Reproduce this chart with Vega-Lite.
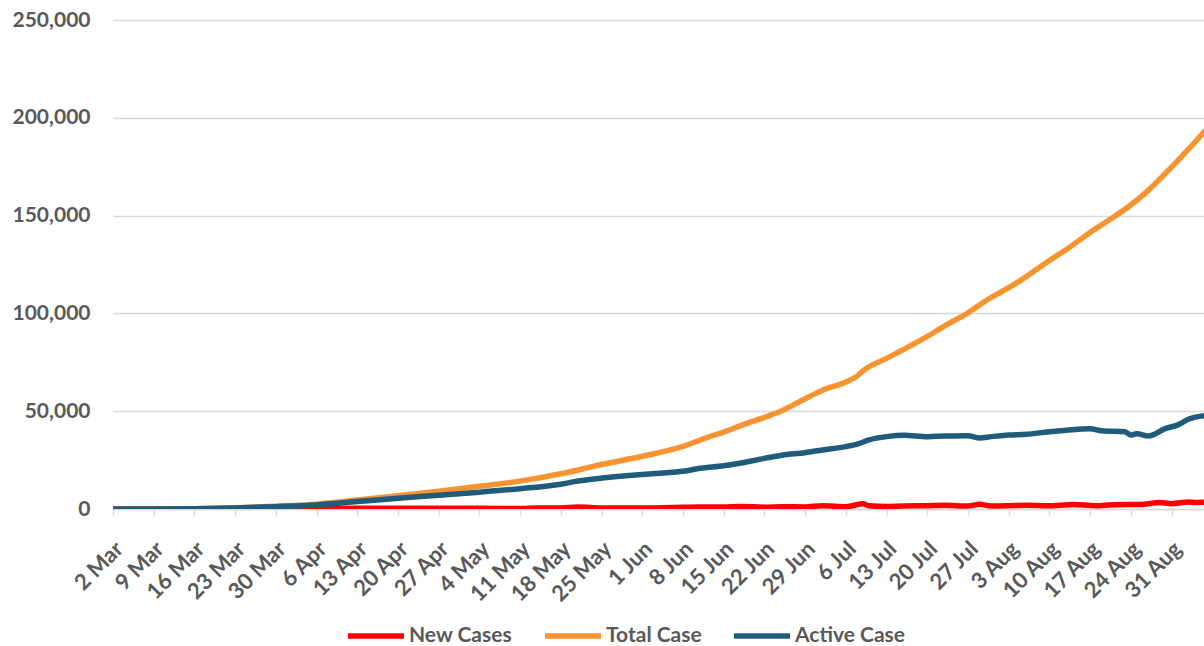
{
  "$schema": "https://vega.github.io/schema/vega-lite/v6.json",
  "width": 1091,
  "height": 489,
  "autosize": {"type": "none"},
  "padding": {"left": 113, "top": 20, "right": 0, "bottom": 137},
  "background": "white",
  "config": {"view": {"stroke": null}, "font": "Lato"},
  "data": {
    "format": {"parse": {"date": "date:'%Y-%m-%d'"}},
    "values": [
      {"date": "2020-03-02", "series": "New Cases", "value": 2},
      {"date": "2020-03-09", "series": "New Cases", "value": 4},
      {"date": "2020-03-16", "series": "New Cases", "value": 17},
      {"date": "2020-03-23", "series": "New Cases", "value": 65},
      {"date": "2020-03-30", "series": "New Cases", "value": 129},
      {"date": "2020-04-06", "series": "New Cases", "value": 218},
      {"date": "2020-04-13", "series": "New Cases", "value": 399},
      {"date": "2020-04-20", "series": "New Cases", "value": 375},
      {"date": "2020-04-27", "series": "New Cases", "value": 350},
      {"date": "2020-05-04", "series": "New Cases", "value": 395},
      {"date": "2020-05-11", "series": "New Cases", "value": 233},
      {"date": "2020-05-14", "series": "New Cases", "value": 568},
      {"date": "2020-05-18", "series": "New Cases", "value": 496},
      {"date": "2020-05-21", "series": "New Cases", "value": 973},
      {"date": "2020-05-25", "series": "New Cases", "value": 479},
      {"date": "2020-06-01", "series": "New Cases", "value": 467},
      {"date": "2020-06-04", "series": "New Cases", "value": 585},
      {"date": "2020-06-08", "series": "New Cases", "value": 847},
      {"date": "2020-06-11", "series": "New Cases", "value": 979},
      {"date": "2020-06-15", "series": "New Cases", "value": 1017},
      {"date": "2020-06-18", "series": "New Cases", "value": 1331},
      {"date": "2020-06-22", "series": "New Cases", "value": 954},
      {"date": "2020-06-25", "series": "New Cases", "value": 1178},
      {"date": "2020-06-29", "series": "New Cases", "value": 1082},
      {"date": "2020-07-02", "series": "New Cases", "value": 1624},
      {"date": "2020-07-06", "series": "New Cases", "value": 1209},
      {"date": "2020-07-09", "series": "New Cases", "value": 2657},
      {"date": "2020-07-10", "series": "New Cases", "value": 1611},
      {"date": "2020-07-13", "series": "New Cases", "value": 1282},
      {"date": "2020-07-16", "series": "New Cases", "value": 1574},
      {"date": "2020-07-20", "series": "New Cases", "value": 1693},
      {"date": "2020-07-23", "series": "New Cases", "value": 1906},
      {"date": "2020-07-27", "series": "New Cases", "value": 1525},
      {"date": "2020-07-29", "series": "New Cases", "value": 2381},
      {"date": "2020-07-31", "series": "New Cases", "value": 1560},
      {"date": "2020-08-03", "series": "New Cases", "value": 1679},
      {"date": "2020-08-06", "series": "New Cases", "value": 1882},
      {"date": "2020-08-10", "series": "New Cases", "value": 1687},
      {"date": "2020-08-13", "series": "New Cases", "value": 2098},
      {"date": "2020-08-14", "series": "New Cases", "value": 2307},
      {"date": "2020-08-18", "series": "New Cases", "value": 1673},
      {"date": "2020-08-21", "series": "New Cases", "value": 2197},
      {"date": "2020-08-24", "series": "New Cases", "value": 2277},
      {"date": "2020-08-26", "series": "New Cases", "value": 2306},
      {"date": "2020-08-27", "series": "New Cases", "value": 2719},
      {"date": "2020-08-29", "series": "New Cases", "value": 3308},
      {"date": "2020-08-31", "series": "New Cases", "value": 2743},
      {"date": "2020-09-03", "series": "New Cases", "value": 3622},
      {"date": "2020-09-04", "series": "New Cases", "value": 3269},
      {"date": "2020-09-06", "series": "New Cases", "value": 3444},

      {"date": "2020-03-02", "series": "Total Case", "value": 2},
      {"date": "2020-03-09", "series": "Total Case", "value": 19},
      {"date": "2020-03-16", "series": "Total Case", "value": 134},
      {"date": "2020-03-23", "series": "Total Case", "value": 579},
      {"date": "2020-03-30", "series": "Total Case", "value": 1414},
      {"date": "2020-04-06", "series": "Total Case", "value": 2491},
      {"date": "2020-04-13", "series": "Total Case", "value": 4557},
      {"date": "2020-04-20", "series": "Total Case", "value": 6760},
      {"date": "2020-04-27", "series": "Total Case", "value": 9096},
      {"date": "2020-05-04", "series": "Total Case", "value": 11587},
      {"date": "2020-05-11", "series": "Total Case", "value": 14265},
      {"date": "2020-05-18", "series": "Total Case", "value": 18010},
      {"date": "2020-05-25", "series": "Total Case", "value": 22750},
      {"date": "2020-06-01", "series": "Total Case", "value": 26940},
      {"date": "2020-06-08", "series": "Total Case", "value": 32033},
      {"date": "2020-06-12", "series": "Total Case", "value": 36406},
      {"date": "2020-06-15", "series": "Total Case", "value": 39294},
      {"date": "2020-06-18", "series": "Total Case", "value": 42762},
      {"date": "2020-06-22", "series": "Total Case", "value": 46845},
      {"date": "2020-06-25", "series": "Total Case", "value": 50187},
      {"date": "2020-06-29", "series": "Total Case", "value": 56385},
      {"date": "2020-07-02", "series": "Total Case", "value": 60695},
      {"date": "2020-07-06", "series": "Total Case", "value": 64958},
      {"date": "2020-07-08", "series": "Total Case", "value": 68079},
      {"date": "2020-07-09", "series": "Total Case", "value": 70736},
      {"date": "2020-07-13", "series": "Total Case", "value": 76981},
      {"date": "2020-07-16", "series": "Total Case", "value": 81668},
      {"date": "2020-07-20", "series": "Total Case", "value": 88214},
      {"date": "2020-07-23", "series": "Total Case", "value": 93657},
      {"date": "2020-07-27", "series": "Total Case", "value": 100303},
      {"date": "2020-07-30", "series": "Total Case", "value": 106336},
      {"date": "2020-08-03", "series": "Total Case", "value": 113134},
      {"date": "2020-08-06", "series": "Total Case", "value": 118753},
      {"date": "2020-08-10", "series": "Total Case", "value": 127083},
      {"date": "2020-08-13", "series": "Total Case", "value": 132816},
      {"date": "2020-08-17", "series": "Total Case", "value": 141370},
      {"date": "2020-08-20", "series": "Total Case", "value": 147211},
      {"date": "2020-08-24", "series": "Total Case", "value": 155412},
      {"date": "2020-08-27", "series": "Total Case", "value": 162884},
      {"date": "2020-08-31", "series": "Total Case", "value": 174796},
      {"date": "2020-09-03", "series": "Total Case", "value": 184268},
      {"date": "2020-09-06", "series": "Total Case", "value": 194109},

      {"date": "2020-03-02", "series": "Active Case", "value": 2},
      {"date": "2020-03-09", "series": "Active Case", "value": 17},
      {"date": "2020-03-16", "series": "Active Case", "value": 121},
      {"date": "2020-03-23", "series": "Active Case", "value": 520},
      {"date": "2020-03-30", "series": "Active Case", "value": 1200},
      {"date": "2020-04-06", "series": "Active Case", "value": 2100},
      {"date": "2020-04-13", "series": "Active Case", "value": 3800},
      {"date": "2020-04-20", "series": "Active Case", "value": 5500},
      {"date": "2020-04-27", "series": "Active Case", "value": 7000},
      {"date": "2020-05-04", "series": "Active Case", "value": 8600},
      {"date": "2020-05-11", "series": "Active Case", "value": 10400},
      {"date": "2020-05-18", "series": "Active Case", "value": 12700},
      {"date": "2020-05-21", "series": "Active Case", "value": 14300},
      {"date": "2020-05-25", "series": "Active Case", "value": 15800},
      {"date": "2020-06-01", "series": "Active Case", "value": 17600},
      {"date": "2020-06-04", "series": "Active Case", "value": 18300},
      {"date": "2020-06-08", "series": "Active Case", "value": 19300},
      {"date": "2020-06-11", "series": "Active Case", "value": 20800},
      {"date": "2020-06-15", "series": "Active Case", "value": 22100},
      {"date": "2020-06-18", "series": "Active Case", "value": 23500},
      {"date": "2020-06-22", "series": "Active Case", "value": 25900},
      {"date": "2020-06-25", "series": "Active Case", "value": 27500},
      {"date": "2020-06-29", "series": "Active Case", "value": 28800},
      {"date": "2020-07-02", "series": "Active Case", "value": 30200},
      {"date": "2020-07-06", "series": "Active Case", "value": 31900},
      {"date": "2020-07-08", "series": "Active Case", "value": 33200},
      {"date": "2020-07-10", "series": "Active Case", "value": 35300},
      {"date": "2020-07-13", "series": "Active Case", "value": 37000},
      {"date": "2020-07-16", "series": "Active Case", "value": 37700},
      {"date": "2020-07-20", "series": "Active Case", "value": 37000},
      {"date": "2020-07-23", "series": "Active Case", "value": 37300},
      {"date": "2020-07-27", "series": "Active Case", "value": 37500},
      {"date": "2020-07-29", "series": "Active Case", "value": 36300},
      {"date": "2020-07-31", "series": "Active Case", "value": 37000},
      {"date": "2020-08-03", "series": "Active Case", "value": 37800},
      {"date": "2020-08-06", "series": "Active Case", "value": 38200},
      {"date": "2020-08-10", "series": "Active Case", "value": 39500},
      {"date": "2020-08-12", "series": "Active Case", "value": 40000},
      {"date": "2020-08-17", "series": "Active Case", "value": 41000},
      {"date": "2020-08-19", "series": "Active Case", "value": 40000},
      {"date": "2020-08-23", "series": "Active Case", "value": 39500},
      {"date": "2020-08-24", "series": "Active Case", "value": 37800},
      {"date": "2020-08-25", "series": "Active Case", "value": 38500},
      {"date": "2020-08-27", "series": "Active Case", "value": 37300},
      {"date": "2020-08-30", "series": "Active Case", "value": 41200},
      {"date": "2020-09-01", "series": "Active Case", "value": 42900},
      {"date": "2020-09-03", "series": "Active Case", "value": 46000},
      {"date": "2020-09-06", "series": "Active Case", "value": 47800}
    ]
  },
  "mark": {"type": "line", "strokeWidth": 5.5, "clip": true, "interpolate": "monotone", "strokeCap": "round", "strokeJoin": "round"},
  "encoding": {
    "x": {
      "field": "date",
      "type": "temporal",
      "title": null,
      "scale": {"domain": [{"year": 2020, "month": 3, "date": 2}, {"year": 2020, "month": 9, "date": 5, "hours": 14}]},
      "axis": {
        "values": [
          {"year": 2020, "month": 3, "date": 2}, {"year": 2020, "month": 3, "date": 9}, {"year": 2020, "month": 3, "date": 16}, {"year": 2020, "month": 3, "date": 23}, {"year": 2020, "month": 3, "date": 30},
          {"year": 2020, "month": 4, "date": 6}, {"year": 2020, "month": 4, "date": 13}, {"year": 2020, "month": 4, "date": 20}, {"year": 2020, "month": 4, "date": 27},
          {"year": 2020, "month": 5, "date": 4}, {"year": 2020, "month": 5, "date": 11}, {"year": 2020, "month": 5, "date": 18}, {"year": 2020, "month": 5, "date": 25},
          {"year": 2020, "month": 6, "date": 1}, {"year": 2020, "month": 6, "date": 8}, {"year": 2020, "month": 6, "date": 15}, {"year": 2020, "month": 6, "date": 22}, {"year": 2020, "month": 6, "date": 29},
          {"year": 2020, "month": 7, "date": 6}, {"year": 2020, "month": 7, "date": 13}, {"year": 2020, "month": 7, "date": 20}, {"year": 2020, "month": 7, "date": 27},
          {"year": 2020, "month": 8, "date": 3}, {"year": 2020, "month": 8, "date": 10}, {"year": 2020, "month": 8, "date": 17}, {"year": 2020, "month": 8, "date": 24}, {"year": 2020, "month": 8, "date": 31}
        ],
        "format": "%-d %b",
        "labelAngle": -45,
        "labelAlign": "right",
        "labelBaseline": "middle",
        "labelFont": "Lato",
        "labelFontSize": 22,
        "labelFontWeight": "bold",
        "labelColor": "#595959",
        "labelPadding": 30,
        "labelOffset": 6,
        "labelOverlap": false,
        "labelFlush": false,
        "grid": false,
        "domain": true,
        "domainColor": "#d9d9d9",
        "domainWidth": 1.5,
        "ticks": true,
        "tickColor": "#d9d9d9",
        "tickWidth": 1.5,
        "tickSize": 6
      }
    },
    "y": {
      "field": "value",
      "type": "quantitative",
      "title": null,
      "scale": {"domain": [0, 250000], "nice": false},
      "axis": {
        "values": [0, 50000, 100000, 150000, 200000, 250000],
        "format": ",d",
        "labelFont": "Lato",
        "labelFontSize": 21,
        "labelFontWeight": "bold",
        "labelColor": "#595959",
        "labelPadding": 23,
        "domain": false,
        "ticks": false,
        "grid": true,
        "gridColor": "#d9d9d9",
        "gridWidth": 1.5
      }
    },
    "color": {
      "field": "series",
      "type": "nominal",
      "sort": ["New Cases", "Total Case", "Active Case"],
      "scale": {"domain": ["New Cases", "Total Case", "Active Case"], "range": ["#ff0000", "#f7942f", "#1f5b7b"]},
      "legend": {
        "title": null,
        "orient": "none",
        "direction": "horizontal",
        "legendX": 232,
        "legendY": 604,
        "clipHeight": 24,
        "symbolType": "stroke",
        "symbolSize": 3136,
        "symbolStrokeWidth": 5.5,
        "labelFont": "Lato",
        "labelFontSize": 21,
        "labelFontWeight": "bold",
        "labelColor": "#595959",
        "labelOffset": 2,
        "columnPadding": 29
      }
    }
  }
}
